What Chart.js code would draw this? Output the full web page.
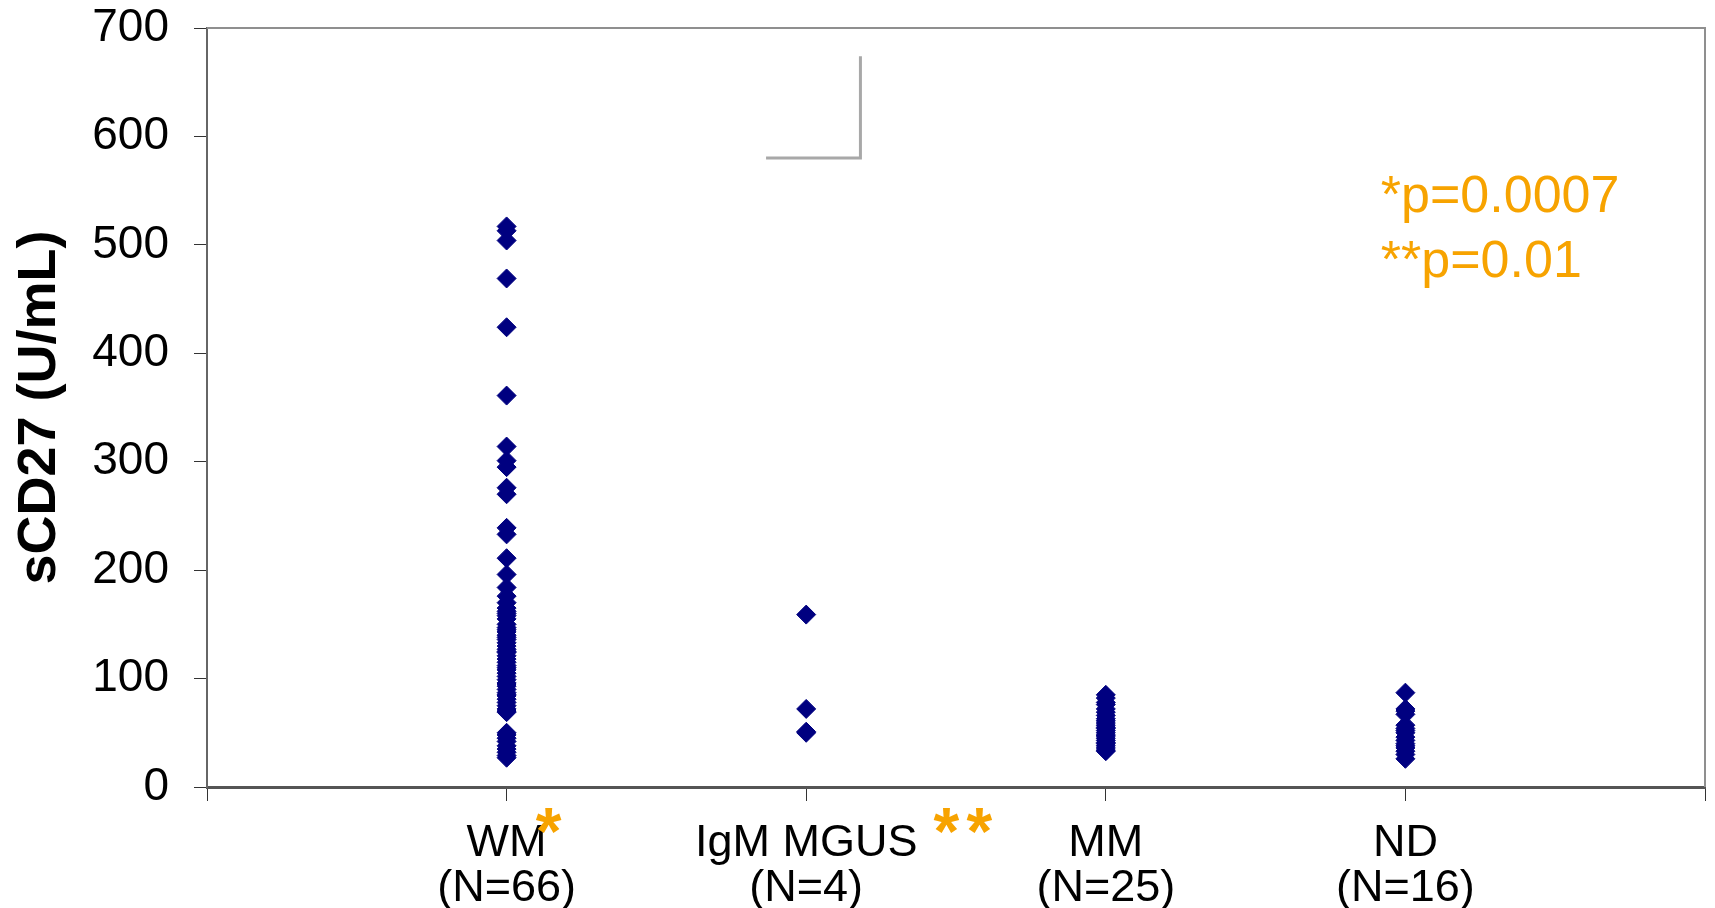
<!DOCTYPE html>
<html>
<head>
<meta charset="utf-8">
<script src="https://cdn.jsdelivr.net/npm/chart.js@4"></script>
<style>
  body { margin: 0; background: #fff; }
  #wrap { width: 1715px; height: 908px; }
</style>
</head>
<body>
<div id="wrap"><canvas id="chart"></canvas></div>
<script>
// groups on the x axis (plotted at 1..4)
const categories = ['WM', 'IgM MGUS', 'MM', 'ND'];
const groupSizes = ['(N=66)', '(N=4)', '(N=25)', '(N=16)'];

// sCD27 values (U/mL)
const wmValues = [517, 513, 504, 469, 424, 361, 314, 301, 295, 276, 270, 239, 233, 211, 196, 184, 176,
  170, 165, 162, 160, 158, 155, 150, 147, 145, 143, 140, 138, 136, 133, 130, 127, 125, 124, 121, 118, 115,
  112, 110, 108, 105, 102, 99, 96, 95, 93, 90, 87, 85, 84, 81, 78, 75, 72, 70, 69,
  50, 48, 45, 42, 38, 35, 32, 29, 27];
const mgusValues = [159, 72, 51, 50];
const mmValues = [85, 82, 78, 76, 72, 69, 66, 63, 61, 59, 57, 55, 54, 52, 50, 48, 47, 45, 43, 41, 40, 38, 36, 34, 33];
const ndValues = [87, 72, 70, 67, 57, 54, 52, 50, 46, 43, 40, 38, 36, 33, 30, 26];

const yTicks = [0, 100, 200, 300, 400, 500, 600, 700];
const pNotes = ['*p=0.0007', '**p=0.01'];

const NAVY = '#000080';
const ORANGE = '#f7a300';
const FONT = "'Liberation Sans', Arial, sans-serif";

const groups = [wmValues, mgusValues, mmValues, ndValues];
const points = [];
groups.forEach((vals, i) => vals.forEach(v => points.push({ x: i + 1, y: v })));

// frame, stray corner line, p-values and stars
const extras = {
  id: 'extras',
  afterDraw(chart) {
    const { ctx, chartArea: a, scales: { x, y } } = chart;
    ctx.save();
    ctx.strokeStyle = '#8f8f8f';
    ctx.lineWidth = 2;
    ctx.beginPath();
    ctx.moveTo(a.left, a.top);
    ctx.lineTo(a.right, a.top);
    ctx.lineTo(a.right, a.bottom);
    ctx.stroke();

    // leftover corner from the original slide
    ctx.strokeStyle = '#a8a8a8';
    ctx.lineWidth = 3;
    ctx.beginPath();
    ctx.moveTo(x.getPixelForValue(2.181), y.getPixelForValue(674));
    ctx.lineTo(x.getPixelForValue(2.181), y.getPixelForValue(580));
    ctx.lineTo(x.getPixelForValue(1.866), y.getPixelForValue(580));
    ctx.stroke();

    ctx.fillStyle = ORANGE;
    ctx.textAlign = 'left';
    ctx.textBaseline = 'alphabetic';
    ctx.font = '52px ' + FONT;
    ctx.fillText(pNotes[0], x.getPixelForValue(3.918), y.getPixelForValue(530));
    ctx.fillText(pNotes[1], x.getPixelForValue(3.918), y.getPixelForValue(470));

    ctx.font = 'bold 66px ' + FONT;
    ctx.fillText('*', x.getPixelForValue(1.097), a.bottom + 67);
    const sx = x.getPixelForValue(2.425);
    ctx.fillText('*', sx, a.bottom + 67);
    ctx.fillText('*', sx + 33, a.bottom + 67);
    ctx.restore();
  }
};

new Chart(document.getElementById('chart'), {
  type: 'scatter',
  data: {
    datasets: [{
      data: points,
      pointStyle: 'rectRot',
      pointRadius: 9.5,
      pointBorderWidth: 1,
      backgroundColor: NAVY,
      borderColor: NAVY
    }]
  },
  options: {
    responsive: true,
    maintainAspectRatio: false,
    animation: false,
    layout: { autoPadding: false, padding: { top: 28, right: 10 } },
    plugins: {
      legend: { display: false },
      tooltip: { enabled: false }
    },
    scales: {
      x: {
        type: 'linear',
        min: 0,
        max: 5,
        afterFit: s => { s.height = 121; s.paddingLeft = 0; s.paddingRight = 0; },
        afterBuildTicks: s => { s.ticks = [0, 1, 2, 3, 4, 5].map(v => ({ value: v })); },
        grid: { drawOnChartArea: false, tickLength: 14, tickColor: '#333', tickWidth: 1 },
        border: { color: '#555', width: 3 },
        ticks: {
          color: '#000',
          font: { family: FONT, size: 45, lineHeight: 1.0 },
          padding: 20,
          maxRotation: 0,
          autoSkip: false,
          callback: v => (v >= 1 && v <= 4) ? [categories[v - 1], groupSizes[v - 1]] : ''
        }
      },
      y: {
        min: 0,
        max: 700,
        afterFit: s => { s.width = 207; s.paddingTop = 0; s.paddingBottom = 0; },
        afterBuildTicks: s => { s.ticks = yTicks.map(v => ({ value: v })); },
        grid: { drawOnChartArea: false, tickLength: 13, tickColor: '#333', tickWidth: 1 },
        border: { color: '#666', width: 2 },
        ticks: {
          color: '#000',
          font: { family: FONT, size: 46 },
          padding: 25
        },
        title: {
          display: true,
          text: 'sCD27 (U/mL)',
          color: '#000',
          font: { family: FONT, size: 54, weight: 'bold' },
          padding: { top: 8, bottom: 0 }
        }
      }
    }
  },
  plugins: [extras]
});
</script>
</body>
</html>
